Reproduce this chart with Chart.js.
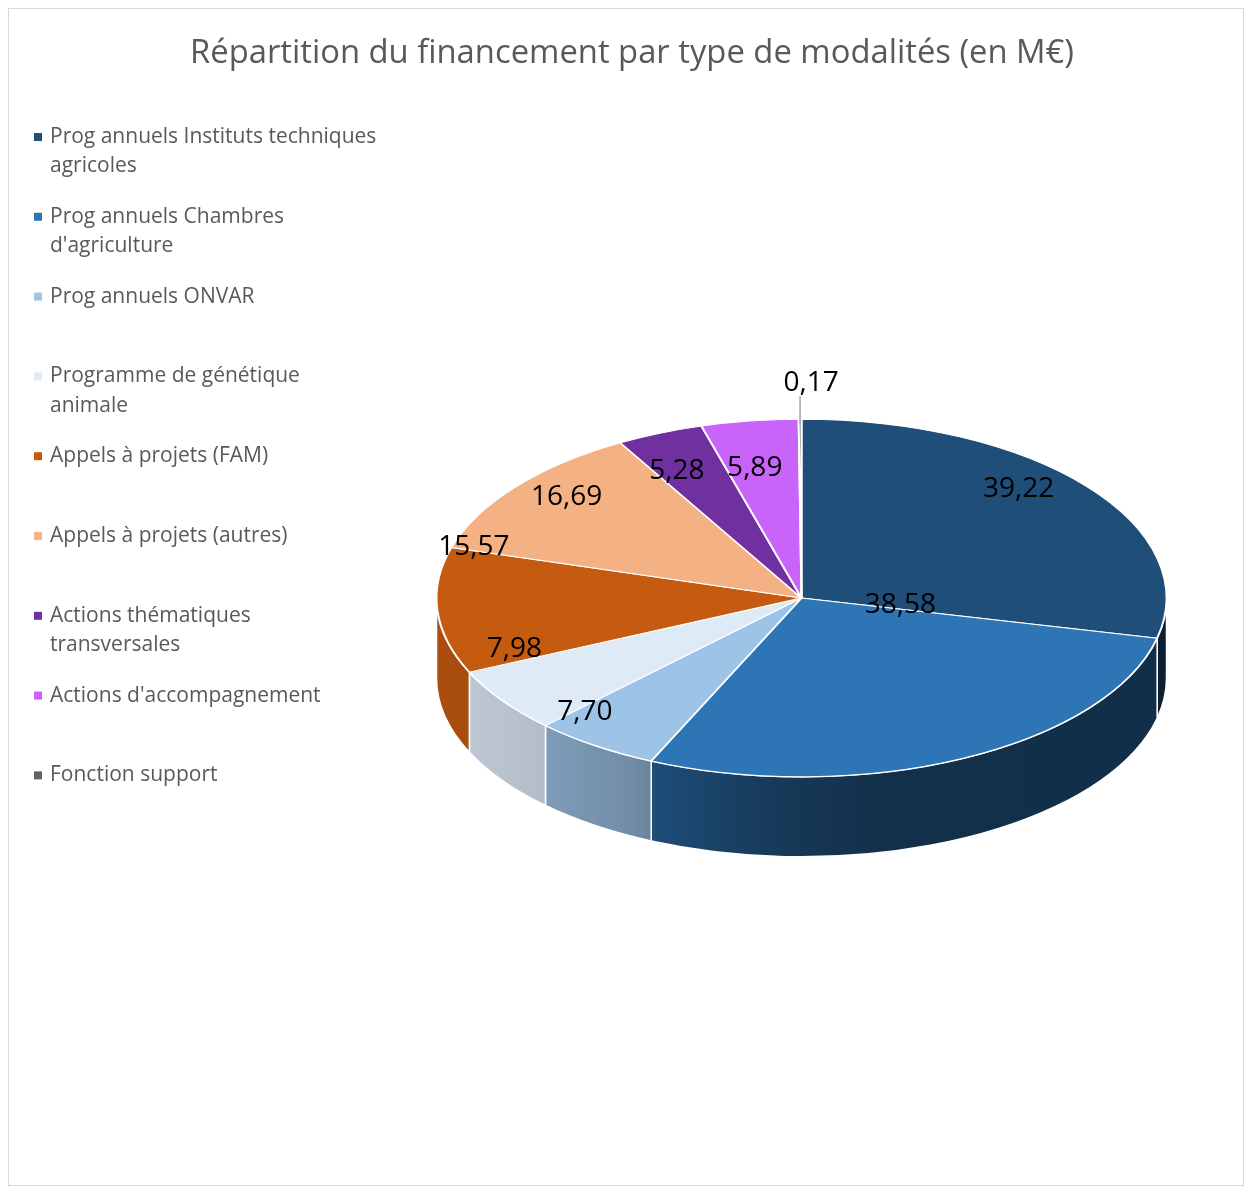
<!DOCTYPE html>
<html>
<head>
<meta charset="utf-8">
<script src="https://cdn.jsdelivr.net/npm/chart.js@4/dist/chart.umd.min.js"></script>
<style>
  html, body { margin: 0; padding: 0; background: #fff; }
  #wrap { width: 1245px; height: 1187px; }
</style>
</head>
<body>
<div id="wrap"><canvas id="pie" width="1245" height="1187"></canvas></div>
<script>
const chartTitle = 'Répartition du financement par type de modalités (en M€)';
const categories = [
  ['Prog annuels Instituts techniques', 'agricoles'],
  ['Prog annuels Chambres', "d'agriculture"],
  ['Prog annuels ONVAR'],
  ['Programme de génétique', 'animale'],
  ['Appels à projets (FAM)'],
  ['Appels à projets (autres)'],
  ['Actions thématiques', 'transversales'],
  ["Actions d'accompagnement"],
  ['Fonction support']
];
const values = [39.22, 38.58, 7.70, 7.98, 15.57, 16.69, 5.28, 5.89, 0.17];
const colors = ['#1F4E79', '#2E75B6', '#9DC3E6', '#DEEBF7', '#C55A11', '#F4B183', '#7030A0', '#C864FA', '#636363'];

// value label placement: fraction of radius along the slice middle (null = outside with leader)
const labelRadius = [0.76, 0.61, 1.05, 0.96, 0.9, 0.82, 0.88, 0.9, null];
// and a vertical nudge in px (Excel's 3D label placement is not purely radial)
const labelLift = [-24, -91, -41, -47, -62, -10, 18, 29, 0];

const squash = 0.49;   // ellipse ratio of the tilted pie
const depth = 80;      // thickness of the pie side
// side shading across the pie width: [position, brightness]
const sideShade = [[0, 0.87], [0.14, 0.81], [0.27, 0.72], [0.3, 0.66], [0.45, 0.5], [0.6, 0.41], [1, 0.4]];

function shade(hex, f) {
  const n = parseInt(hex.slice(1), 16);
  const r = Math.round(((n >> 16) & 255) * f);
  const g = Math.round(((n >> 8) & 255) * f);
  const b = Math.round((n & 255) * f);
  return `rgb(${r},${g},${b})`;
}

const fmt = v => v.toFixed(2).replace('.', ',');

const frame = {
  id: 'frame',
  beforeDraw(chart) {
    const ctx = chart.ctx;
    ctx.save();
    ctx.fillStyle = '#fff';
    ctx.fillRect(0, 0, chart.width, chart.height);
    ctx.strokeStyle = '#D9D9D9';
    ctx.lineWidth = 1;
    ctx.strokeRect(8.5, 8.5, chart.width - 10, chart.height - 10);
    ctx.restore();
  },
  afterDraw(chart) {
    const ctx = chart.ctx;
    ctx.save();
    // title, condensed a bit like the original
    ctx.font = '32px "Open Sans"';
    ctx.fillStyle = '#595959';
    ctx.textBaseline = 'middle';
    ctx.textAlign = 'center';
    const w = ctx.measureText(chartTitle).width;
    ctx.translate(632, 54);
    ctx.scale(884 / w, 1);
    ctx.fillText(chartTitle, 0, 0);
    ctx.restore();

    // legend
    ctx.save();
    ctx.font = '21px "Open Sans"';
    ctx.textBaseline = 'middle';
    ctx.textAlign = 'left';
    categories.forEach((lines, i) => {
      const y = 137 + i * 79.8;
      ctx.fillStyle = colors[i];
      ctx.fillRect(34, y - 4, 8, 8);
      ctx.fillStyle = '#595959';
      lines.forEach((t, j) => ctx.fillText(t, 50, y + j * 29.5));
    });
    ctx.restore();
  }
};

const pie3d = {
  id: 'pie3d',
  beforeDatasetsDraw(chart) {
    const ctx = chart.ctx;
    const arcs = chart.getDatasetMeta(0).data;
    const cx = arcs[0].x, cy = arcs[0].y, rx = arcs[0].outerRadius, ry = rx * squash;
    // front side walls
    arcs.forEach((arc, i) => {
      const s = Math.max(arc.startAngle, 0);
      const e = Math.min(arc.endAngle, Math.PI);
      if (e <= s) return;
      const g = ctx.createLinearGradient(cx - rx, 0, cx + rx, 0);
      sideShade.forEach(([t, f]) => g.addColorStop(t, shade(colors[i], f)));
      ctx.beginPath();
      ctx.ellipse(cx, cy, rx, ry, 0, s, e);
      ctx.ellipse(cx, cy + depth, rx, ry, 0, e, s, true);
      ctx.closePath();
      ctx.fillStyle = g;
      ctx.fill();
      ctx.strokeStyle = '#fff';
      ctx.lineWidth = 1.5;
      ctx.stroke();
    });
    // flatten the top face
    ctx.save();
    ctx.translate(cx, cy);
    ctx.scale(1, squash);
    ctx.translate(-cx, -cy);
  },
  afterDatasetsDraw(chart) {
    const ctx = chart.ctx;
    ctx.restore();
    const arcs = chart.getDatasetMeta(0).data;
    const cx = arcs[0].x, cy = arcs[0].y, rx = arcs[0].outerRadius, ry = rx * squash;
    ctx.save();
    ctx.font = '28px "Open Sans"';
    ctx.fillStyle = '#000';
    ctx.textAlign = 'center';
    ctx.textBaseline = 'middle';
    arcs.forEach((arc, i) => {
      const mid = (arc.startAngle + arc.endAngle) / 2;
      const r = labelRadius[i];
      if (r === null) {
        const x = cx + rx * Math.cos(mid);
        const y = cy + ry * Math.sin(mid);
        ctx.strokeStyle = '#A6A6A6';
        ctx.lineWidth = 1.5;
        ctx.beginPath();
        ctx.moveTo(x, y + 4);
        ctx.lineTo(x, y - 23);
        ctx.stroke();
        ctx.fillText(fmt(values[i]), x + 11, y - 36);
      } else {
        const x = cx + r * rx * Math.cos(mid);
        const y = cy + r * ry * Math.sin(mid) + labelLift[i];
        ctx.fillText(fmt(values[i]), x, y);
      }
    });
    ctx.restore();
  }
};

new Chart(document.getElementById('pie'), {
  type: 'pie',
  data: {
    labels: categories,
    datasets: [{
      data: values,
      backgroundColor: colors,
      borderColor: '#fff',
      borderWidth: 2,
      hoverOffset: 0
    }]
  },
  options: {
    responsive: false,
    animation: false,
    layout: { padding: { left: 435, right: 77, top: 232, bottom: 223 } },
    plugins: {
      legend: { display: false },
      tooltip: { enabled: false },
      title: { display: false }
    },
    events: []
  },
  plugins: [frame, pie3d]
});
</script>
</body>
</html>
